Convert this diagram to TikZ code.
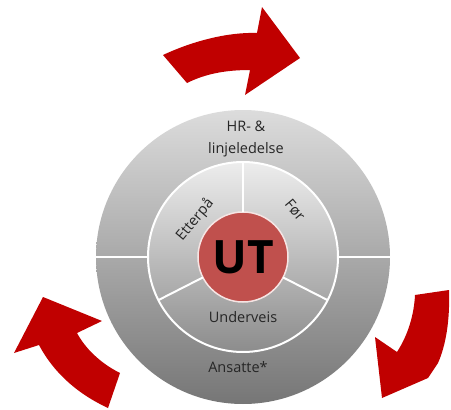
\documentclass[tikz,border=0pt]{standalone}
\usepackage{fontspec}
\setmainfont{Open Sans}
\usepackage{xcolor}
\usetikzlibrary{positioning}
\definecolor{utred}{HTML}{C0504D}
\definecolor{flowred}{HTML}{C00000}
\definecolor{ringtop}{HTML}{DCDCDC}
\definecolor{ringbot}{HTML}{767676}
\definecolor{midtop}{HTML}{EDEDED}
\definecolor{midbot}{HTML}{8C8C8C}
\definecolor{labelgray}{HTML}{262626}
\begin{document}
\begin{tikzpicture}[
  x=1pt,y=-1pt,
  disc/.style={circle,inner sep=0pt,outer sep=0pt},
  label/.style={font=\fontsize{14.5}{17}\selectfont,text=labelgray,inner sep=0pt},
  sep/.style={draw=white,line width=2pt},
  turn/.style={fill=flowred,draw=none}
]
\useasboundingbox (0,0) rectangle (451,410);
\node[disc,minimum size=294pt,top color=ringtop,bottom color=ringbot] (outer) at (243,257) {};
\node[disc,minimum size=190pt,top color=midtop,bottom color=midbot,draw=white,line width=2pt] (mid) at (243,257) {};
\draw[sep] (mid.west) -- (outer.west);
\draw[sep] (mid.east) -- (outer.east);
\node[disc,minimum size=90pt,fill=utred,draw=white!85!utred,line width=1.5pt] (ut) at (243,257) {};
\draw[sep] (ut.north) -- (mid.north);
\draw[sep] (ut.207) -- (mid.207);
\draw[sep] (ut.333) -- (mid.333);
\node[font=\fontsize{46}{50}\selectfont\bfseries,inner sep=0pt] (uttext) at (ut) {UT};
\node[label] (hr) at (246,126) {HR- \&};
\node[label] (leder) at (246,150) {linjeledelse};
\node[label] (under) at (243,317) {Underveis};
\node[label] (ansatte) at (238,367) {Ansatte*};
\node[label,rotate=50] (etter) at (195,220) {Etterpå};
\node[label,rotate=-50] (foer) at (295,210) {Før};
\fill[turn] (163,55) .. controls (195,40) and (230,32) .. (257,33) -- (262,7) -- (300,58) -- (245,95) -- (250,70) .. controls (225,70) and (205,74) .. (187,83) -- cycle;
\fill[turn] (415,295) -- (449,290) .. controls (450,320) and (446,345) .. (438,363) -- (428,378) -- (382,398) -- (375,337) -- (397,352) .. controls (408,335) and (414,315) .. (415,295) -- cycle;
\fill[turn] (43,297) -- (102,321) -- (77,333) .. controls (85,348) and (100,363) .. (120,373) -- (108,408) .. controls (80,395) and (55,375) .. (39,345) -- (14,353) -- cycle;
\end{tikzpicture}
\end{document}
